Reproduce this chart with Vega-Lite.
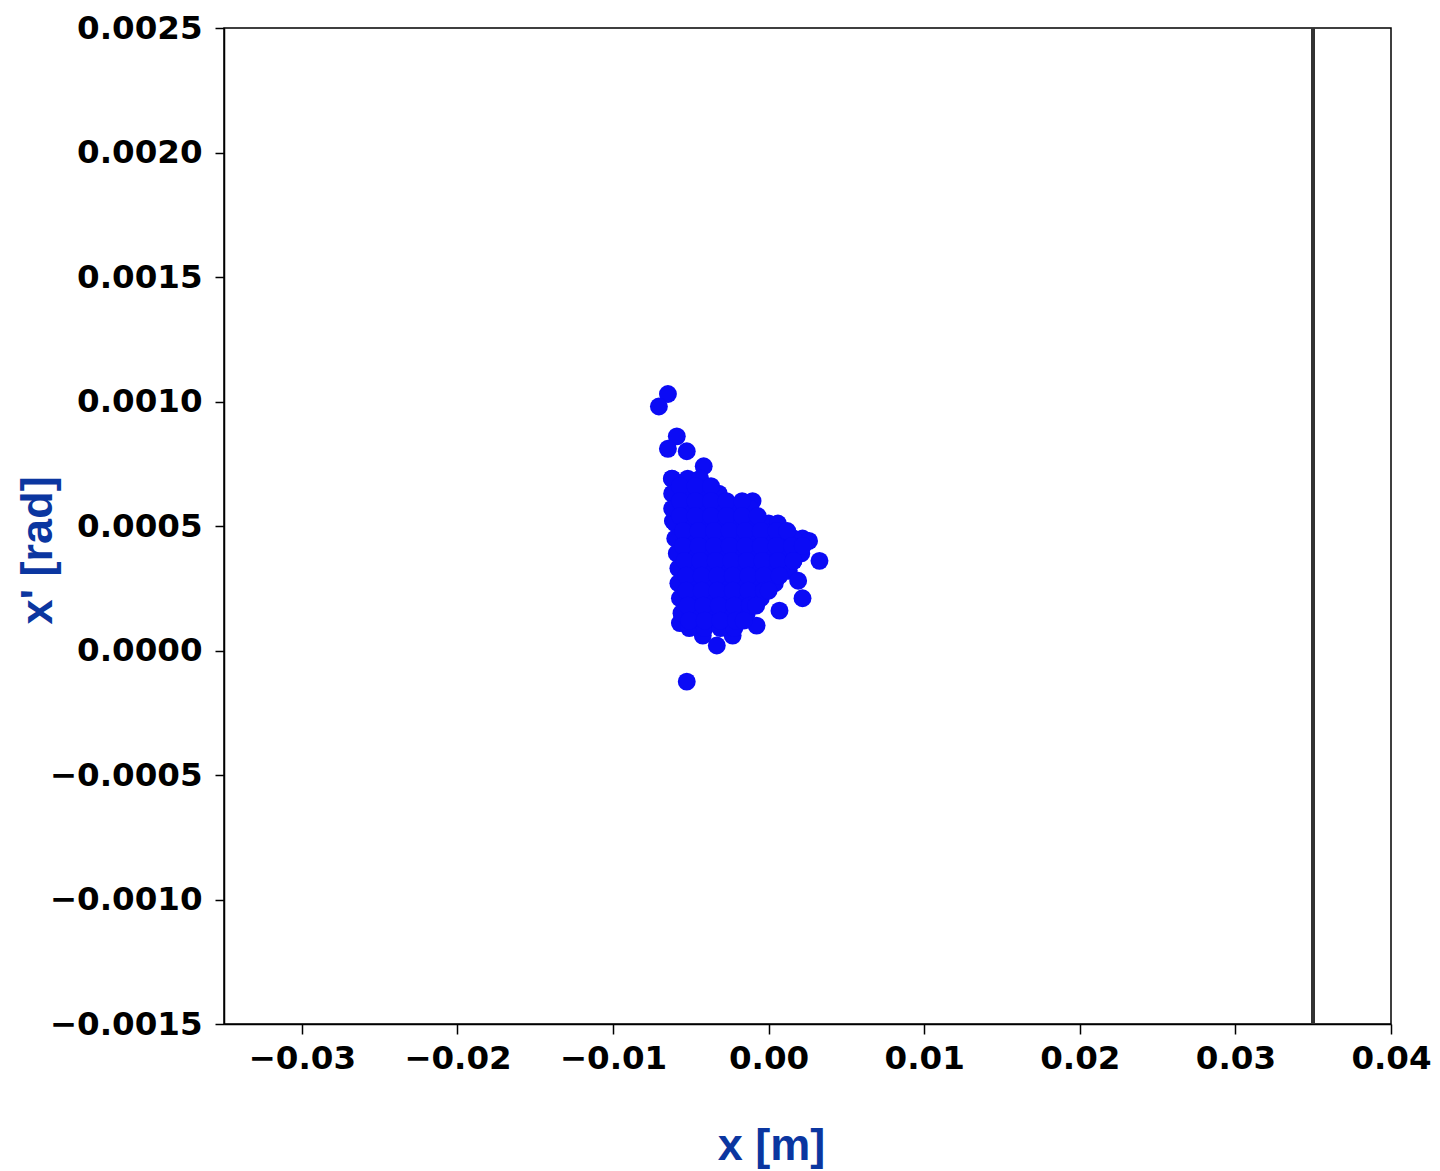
{
  "$schema": "https://vega.github.io/schema/vega-lite/v6.json",
  "width": 1167,
  "height": 996,
  "autosize": "none",
  "padding": {"left": 224, "top": 28, "right": 49, "bottom": 147},
  "background": "white",
  "config": {
    "view": {"stroke": "#000000", "strokeWidth": 1.5},
    "axis": {
      "grid": false,
      "domainColor": "#000000",
      "domainWidth": 1.5,
      "tickColor": "#000000",
      "tickWidth": 1.5,
      "labelFont": "DejaVu Sans",
      "labelFontWeight": "bold",
      "labelFontSize": 32.5,
      "labelColor": "#000000",
      "titleFont": "Liberation Sans",
      "titleFontWeight": "bold",
      "titleFontSize": 45,
      "titleColor": "#0b36a0"
    }
  },
  "data": {
    "values": [
      {"x": -0.00647, "xp": 0.00103}, {"x": -0.00705, "xp": 0.00098},
      {"x": -0.0059, "xp": 0.00086}, {"x": -0.00647, "xp": 0.00081},
      {"x": -0.00526, "xp": 0.0008}, {"x": -0.00417, "xp": 0.00074},
      {"x": -0.00622, "xp": 0.00069}, {"x": -0.00615, "xp": 0.00052},
      {"x": -0.00103, "xp": 0.0006}, {"x": 0.00218, "xp": 0.00045},
      {"x": 0.00327, "xp": 0.00036}, {"x": 0.00218, "xp": 0.00021},
      {"x": 0.0007, "xp": 0.00016}, {"x": -0.0057, "xp": 0.00011},
      {"x": -0.0052, "xp": 0.00013}, {"x": -0.00423, "xp": 0.00006},
      {"x": -0.00333, "xp": 0.00002}, {"x": -0.00231, "xp": 0.00006},
      {"x": -0.00077, "xp": 0.0001}, {"x": -0.00526, "xp": -0.000125},
      {"x": 0.0013, "xp": 0.00032}, {"x": 0.0026, "xp": 0.00044},
      {"x": -0.0062, "xp": 0.00069}, {"x": -0.0052, "xp": 0.00069}, {"x": -0.0044, "xp": 0.00069},
      {"x": -0.0062, "xp": 0.00063}, {"x": -0.0052, "xp": 0.00063}, {"x": -0.0042, "xp": 0.00063}, {"x": -0.0032, "xp": 0.00063},
      {"x": -0.0062, "xp": 0.00057}, {"x": -0.0052, "xp": 0.00057}, {"x": -0.0042, "xp": 0.00057}, {"x": -0.0032, "xp": 0.00057}, {"x": -0.0022, "xp": 0.00057}, {"x": -0.0012, "xp": 0.00057},
      {"x": -0.006, "xp": 0.00051}, {"x": -0.005, "xp": 0.00051}, {"x": -0.004, "xp": 0.00051}, {"x": -0.003, "xp": 0.00051}, {"x": -0.002, "xp": 0.00051}, {"x": -0.001, "xp": 0.00051}, {"x": 0.0, "xp": 0.00051}, {"x": 0.0006, "xp": 0.00051},
      {"x": -0.006, "xp": 0.00045}, {"x": -0.005, "xp": 0.00045}, {"x": -0.004, "xp": 0.00045}, {"x": -0.003, "xp": 0.00045}, {"x": -0.002, "xp": 0.00045}, {"x": -0.001, "xp": 0.00045}, {"x": 0.0, "xp": 0.00045}, {"x": 0.001, "xp": 0.00045}, {"x": 0.0016, "xp": 0.00045},
      {"x": -0.0059, "xp": 0.00039}, {"x": -0.0049, "xp": 0.00039}, {"x": -0.0039, "xp": 0.00039}, {"x": -0.0029, "xp": 0.00039}, {"x": -0.0019, "xp": 0.00039}, {"x": -0.0009, "xp": 0.00039}, {"x": 0.0001, "xp": 0.00039}, {"x": 0.0011, "xp": 0.00039}, {"x": 0.0021, "xp": 0.00039},
      {"x": -0.0058, "xp": 0.00033}, {"x": -0.0048, "xp": 0.00033}, {"x": -0.0038, "xp": 0.00033}, {"x": -0.0028, "xp": 0.00033}, {"x": -0.0018, "xp": 0.00033}, {"x": -0.0008, "xp": 0.00033}, {"x": 0.0002, "xp": 0.00033}, {"x": 0.0012, "xp": 0.00033},
      {"x": -0.0058, "xp": 0.00027}, {"x": -0.0048, "xp": 0.00027}, {"x": -0.0038, "xp": 0.00027}, {"x": -0.0028, "xp": 0.00027}, {"x": -0.0018, "xp": 0.00027}, {"x": -0.0008, "xp": 0.00027}, {"x": 0.0004, "xp": 0.00027},
      {"x": -0.0057, "xp": 0.00021}, {"x": -0.0047, "xp": 0.00021}, {"x": -0.0037, "xp": 0.00021}, {"x": -0.0027, "xp": 0.00021}, {"x": -0.0017, "xp": 0.00021}, {"x": -0.0005, "xp": 0.00021},
      {"x": -0.0056, "xp": 0.00015}, {"x": -0.0046, "xp": 0.00015}, {"x": -0.0036, "xp": 0.00015}, {"x": -0.0026, "xp": 0.00015}, {"x": -0.0014, "xp": 0.00015},
      {"x": -0.0051, "xp": 0.00009}, {"x": -0.0041, "xp": 0.00009}, {"x": -0.0031, "xp": 0.00009}, {"x": -0.0022, "xp": 0.00009},
      {"x": -0.0057, "xp": 0.00066}, {"x": -0.0047, "xp": 0.00066}, {"x": -0.0037, "xp": 0.00066},
      {"x": -0.0057, "xp": 0.0006}, {"x": -0.0047, "xp": 0.0006}, {"x": -0.0037, "xp": 0.0006}, {"x": -0.0027, "xp": 0.0006}, {"x": -0.0017, "xp": 0.0006},
      {"x": -0.0057, "xp": 0.00054}, {"x": -0.0047, "xp": 0.00054}, {"x": -0.0037, "xp": 0.00054}, {"x": -0.0027, "xp": 0.00054}, {"x": -0.0017, "xp": 0.00054}, {"x": -0.0007, "xp": 0.00054},
      {"x": -0.0055, "xp": 0.00048}, {"x": -0.0045, "xp": 0.00048}, {"x": -0.0035, "xp": 0.00048}, {"x": -0.0025, "xp": 0.00048}, {"x": -0.0015, "xp": 0.00048}, {"x": -0.0005, "xp": 0.00048}, {"x": 0.0005, "xp": 0.00048}, {"x": 0.0012, "xp": 0.00048},
      {"x": -0.0055, "xp": 0.00042}, {"x": -0.0045, "xp": 0.00042}, {"x": -0.0035, "xp": 0.00042}, {"x": -0.0025, "xp": 0.00042}, {"x": -0.0015, "xp": 0.00042}, {"x": -0.0005, "xp": 0.00042}, {"x": 0.0005, "xp": 0.00042}, {"x": 0.0015, "xp": 0.00042}, {"x": 0.0022, "xp": 0.00042},
      {"x": -0.0054, "xp": 0.00036}, {"x": -0.0044, "xp": 0.00036}, {"x": -0.0034, "xp": 0.00036}, {"x": -0.0024, "xp": 0.00036}, {"x": -0.0014, "xp": 0.00036}, {"x": -0.0004, "xp": 0.00036}, {"x": 0.0006, "xp": 0.00036}, {"x": 0.0016, "xp": 0.00036},
      {"x": -0.0053, "xp": 0.0003}, {"x": -0.0043, "xp": 0.0003}, {"x": -0.0033, "xp": 0.0003}, {"x": -0.0023, "xp": 0.0003}, {"x": -0.0013, "xp": 0.0003}, {"x": -0.0003, "xp": 0.0003}, {"x": 0.0007, "xp": 0.0003},
      {"x": -0.0053, "xp": 0.00024}, {"x": -0.0043, "xp": 0.00024}, {"x": -0.0033, "xp": 0.00024}, {"x": -0.0023, "xp": 0.00024}, {"x": -0.0013, "xp": 0.00024}, {"x": -0.0003, "xp": 0.00024}, {"x": 0.0, "xp": 0.00024},
      {"x": -0.0052, "xp": 0.00018}, {"x": -0.0042, "xp": 0.00018}, {"x": -0.0032, "xp": 0.00018}, {"x": -0.0022, "xp": 0.00018}, {"x": -0.0012, "xp": 0.00018}, {"x": -0.0008, "xp": 0.00018},
      {"x": -0.0051, "xp": 0.00012}, {"x": -0.0041, "xp": 0.00012}, {"x": -0.0031, "xp": 0.00012}, {"x": -0.0021, "xp": 0.00012}, {"x": -0.0016, "xp": 0.00012},
      {"x": 0.0019, "xp": 0.00028}, {"x": 0.0016, "xp": 0.00036}
    ]
  },
  "layer": [
    {
      "mark": {"type": "point", "filled": true, "size": 320, "color": "#0b0bf5", "opacity": 1, "strokeWidth": 0},
      "encoding": {
        "x": {
          "field": "x", "type": "quantitative",
          "scale": {"domain": [-0.035, 0.04], "nice": false, "zero": false},
          "axis": {"title": "x [m]", "values": [-0.03, -0.02, -0.01, 0, 0.01, 0.02, 0.03, 0.04], "format": ".2f", "tickSize": 10, "labelPadding": 8, "titlePadding": 49, "titleX": 547, "labelFlush": false}
        },
        "y": {
          "field": "xp", "type": "quantitative",
          "scale": {"domain": [-0.0015, 0.0025], "nice": false, "zero": false},
          "axis": {"title": "x' [rad]", "values": [-0.0015, -0.001, -0.0005, 0, 0.0005, 0.001, 0.0015, 0.002, 0.0025], "format": ".4f", "tickSize": 9, "labelPadding": 13, "titleX": -164, "titleY": 522, "labelFlush": false}
        }
      }
    },
    {
      "mark": {"type": "rule", "color": "#333333", "strokeWidth": 3.5},
      "encoding": {"x": {"datum": 0.035, "type": "quantitative"}}
    }
  ]
}
